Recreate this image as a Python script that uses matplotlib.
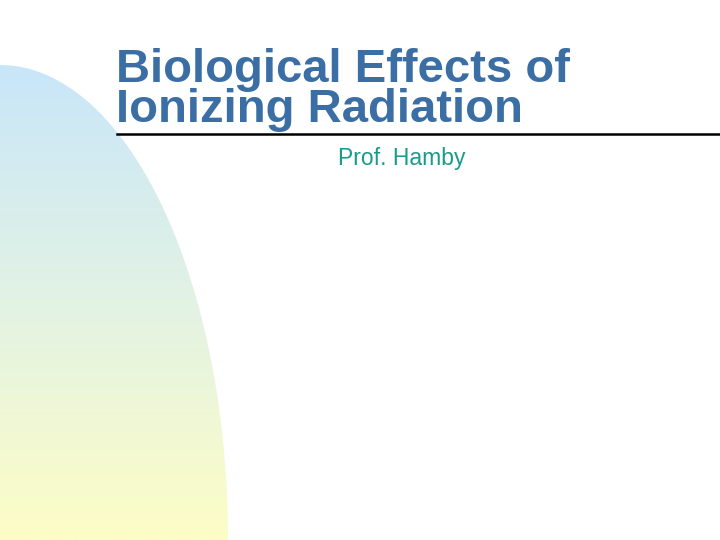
import numpy as np
import matplotlib.pyplot as plt
from matplotlib.patches import Polygon
from matplotlib.colors import LinearSegmentedColormap

title_lines = ["Biological Effects of", "Ionizing Radiation"]
subtitle = "Prof. Hamby"

fig = plt.figure(figsize=(7.2, 5.4), dpi=100)
ax = fig.add_axes([0, 0, 1, 1])
ax.set_xlim(0, 720)
ax.set_ylim(540, 0)
ax.axis("off")

# quarter-ellipse shape on the left with a blue->yellow gradient
t = np.linspace(0, np.pi / 2, 200)
xs = 228 * np.sin(t)
ys = 540 - 475 * np.cos(t)
pts = np.column_stack([np.concatenate([[0], xs, [0]]), np.concatenate([[540], ys, [540]])])
shape = Polygon(pts, closed=True, facecolor="none", edgecolor="none")
ax.add_patch(shape)
cmap = LinearSegmentedColormap.from_list("bg", ["#c8e6fa", "#e2f2e4", "#fdfdc6"])
grad = np.linspace(0, 1, 256).reshape(-1, 1)
img = ax.imshow(grad, cmap=cmap, extent=[0, 230, 540, 60], aspect="auto", zorder=0)
img.set_clip_path(shape)

ax.text(116, 70, title_lines[0], color="#3a6ea5", fontsize=34, fontweight="bold",
        family="Liberation Sans", va="center", ha="left")
ax.text(116, 110, title_lines[1], color="#3a6ea5", fontsize=34, fontweight="bold",
        family="Liberation Sans", va="center", ha="left")
ax.plot([117, 720], [134, 134], color="black", linewidth=1.8)
ax.text(338, 158, subtitle, color="#1a9a8a", fontsize=16.5, family="Liberation Sans",
        va="center", ha="left")

fig.savefig("out.png", dpi=100)
